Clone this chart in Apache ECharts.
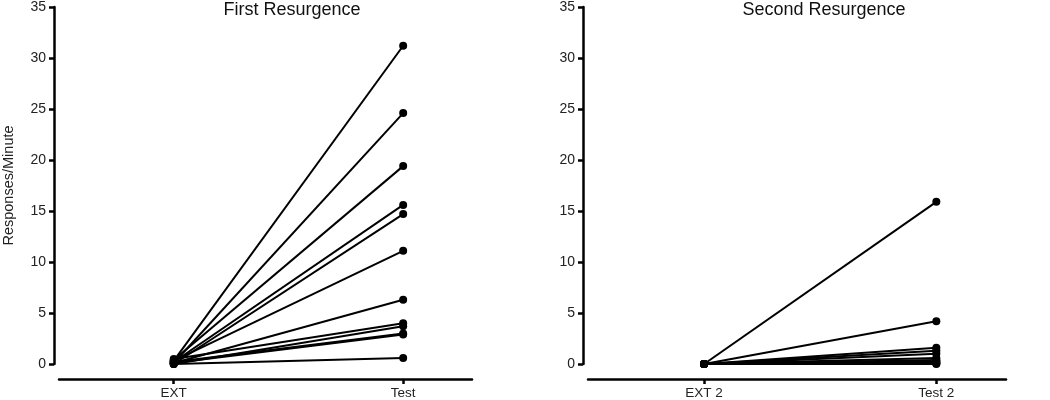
<!DOCTYPE html>
<html><head><meta charset="utf-8">
<script src="https://cdn.jsdelivr.net/npm/echarts@6/dist/echarts.min.js"></script>
<style>html,body{margin:0;padding:0;background:#fff}#c{width:1050px;height:400px}</style>
</head><body><div id="c"></div>
<script>
// Data
const panelTitles = ['First Resurgence', 'Second Resurgence'];
const phaseLabels1 = ['EXT', 'Test'];
const phaseLabels2 = ['EXT 2', 'Test 2'];
const yTicks = [0, 5, 10, 15, 20, 25, 30, 35];
const ext1 = [0.3, 0.1, 0.4, 0.2, 0.0, 0.3, 0.1, 0.5, 0.0, 0.2, 0.1, 0.0];
const test1 = [31.2, 24.6, 19.4, 15.6, 14.7, 11.1, 6.3, 4.0, 3.7, 3.0, 2.9, 0.6];
const ext2 = [0.0, 0.0, 0.0, 0.0, 0.0, 0.0, 0.0, 0.0, 0.0, 0.0, 0.0, 0.0];
const test2 = [15.9, 4.2, 1.6, 1.3, 1.0, 0.6, 0.4, 0.3, 0.2, 0.1, 0.05, 0.0];

const font = 'Liberation Sans, Arial, sans-serif';
const chart = echarts.init(document.getElementById('c'), null, {renderer: 'canvas'});

function xAx(idx, labels) {
  return {
    type: 'value', gridIndex: idx, min: -0.5, max: 1.3, offset: 15,
    axisLine: {show: true, onZero: false, lineStyle: {color: '#000', width: 2.5}},
    axisTick: {show: true, customValues: [0, 1], length: 5, lineStyle: {color: '#000', width: 2.5}},
    axisLabel: {show: true, customValues: [0, 1], formatter: v => labels[Math.round(v)], color: '#222', fontSize: 13.5, fontFamily: font, margin: 7},
    splitLine: {show: false}
  };
}
function yAx(idx, name) {
  return {
    type: 'value', gridIndex: idx, min: yTicks[0], max: yTicks[yTicks.length - 1], interval: 5, offset: 5,
    name: name, nameLocation: 'middle', nameGap: 38, nameRotate: 90,
    nameTextStyle: {color: '#222', fontSize: 14.5, fontFamily: font},
    axisLine: {show: true, onZero: false, lineStyle: {color: '#000', width: 2.5}},
    axisTick: {show: true, length: 5, lineStyle: {color: '#000', width: 2.5}},
    axisLabel: {color: '#222', fontSize: 14, fontFamily: font, margin: 8},
    splitLine: {show: false}
  };
}
const series = [];
function addSeries(idx, ext, test) {
  for (let i = 0; i < ext.length; i++) {
    series.push({
      type: 'line', xAxisIndex: idx, yAxisIndex: idx,
      data: [[0, ext[i]], [1, test[i]]],
      symbol: 'circle', symbolSize: 8, showSymbol: true,
      lineStyle: {color: '#000', width: 2},
      itemStyle: {color: '#000'},
      silent: true, animation: false
    });
  }
}
addSeries(0, ext1, test1);
addSeries(1, ext2, test2);

chart.setOption({
  animation: false,
  backgroundColor: '#fff',
  title: [
    {text: panelTitles[0], left: 287, top: -4, textAlign: 'center', textStyle: {fontSize: 18, fontWeight: 'normal', color: '#111', fontFamily: font}},
    {text: panelTitles[1], left: 819, top: -4, textAlign: 'center', textStyle: {fontSize: 18, fontWeight: 'normal', color: '#111', fontFamily: font}}
  ],
  grid: [
    {left: 57, top: 4, width: 415, height: 360},
    {left: 588, top: 4, width: 418, height: 360}
  ],
  xAxis: [xAx(0, phaseLabels1), xAx(1, phaseLabels2)],
  yAxis: [yAx(0, 'Responses/Minute'), yAx(1, '')],
  series: series
});
</script></body></html>
